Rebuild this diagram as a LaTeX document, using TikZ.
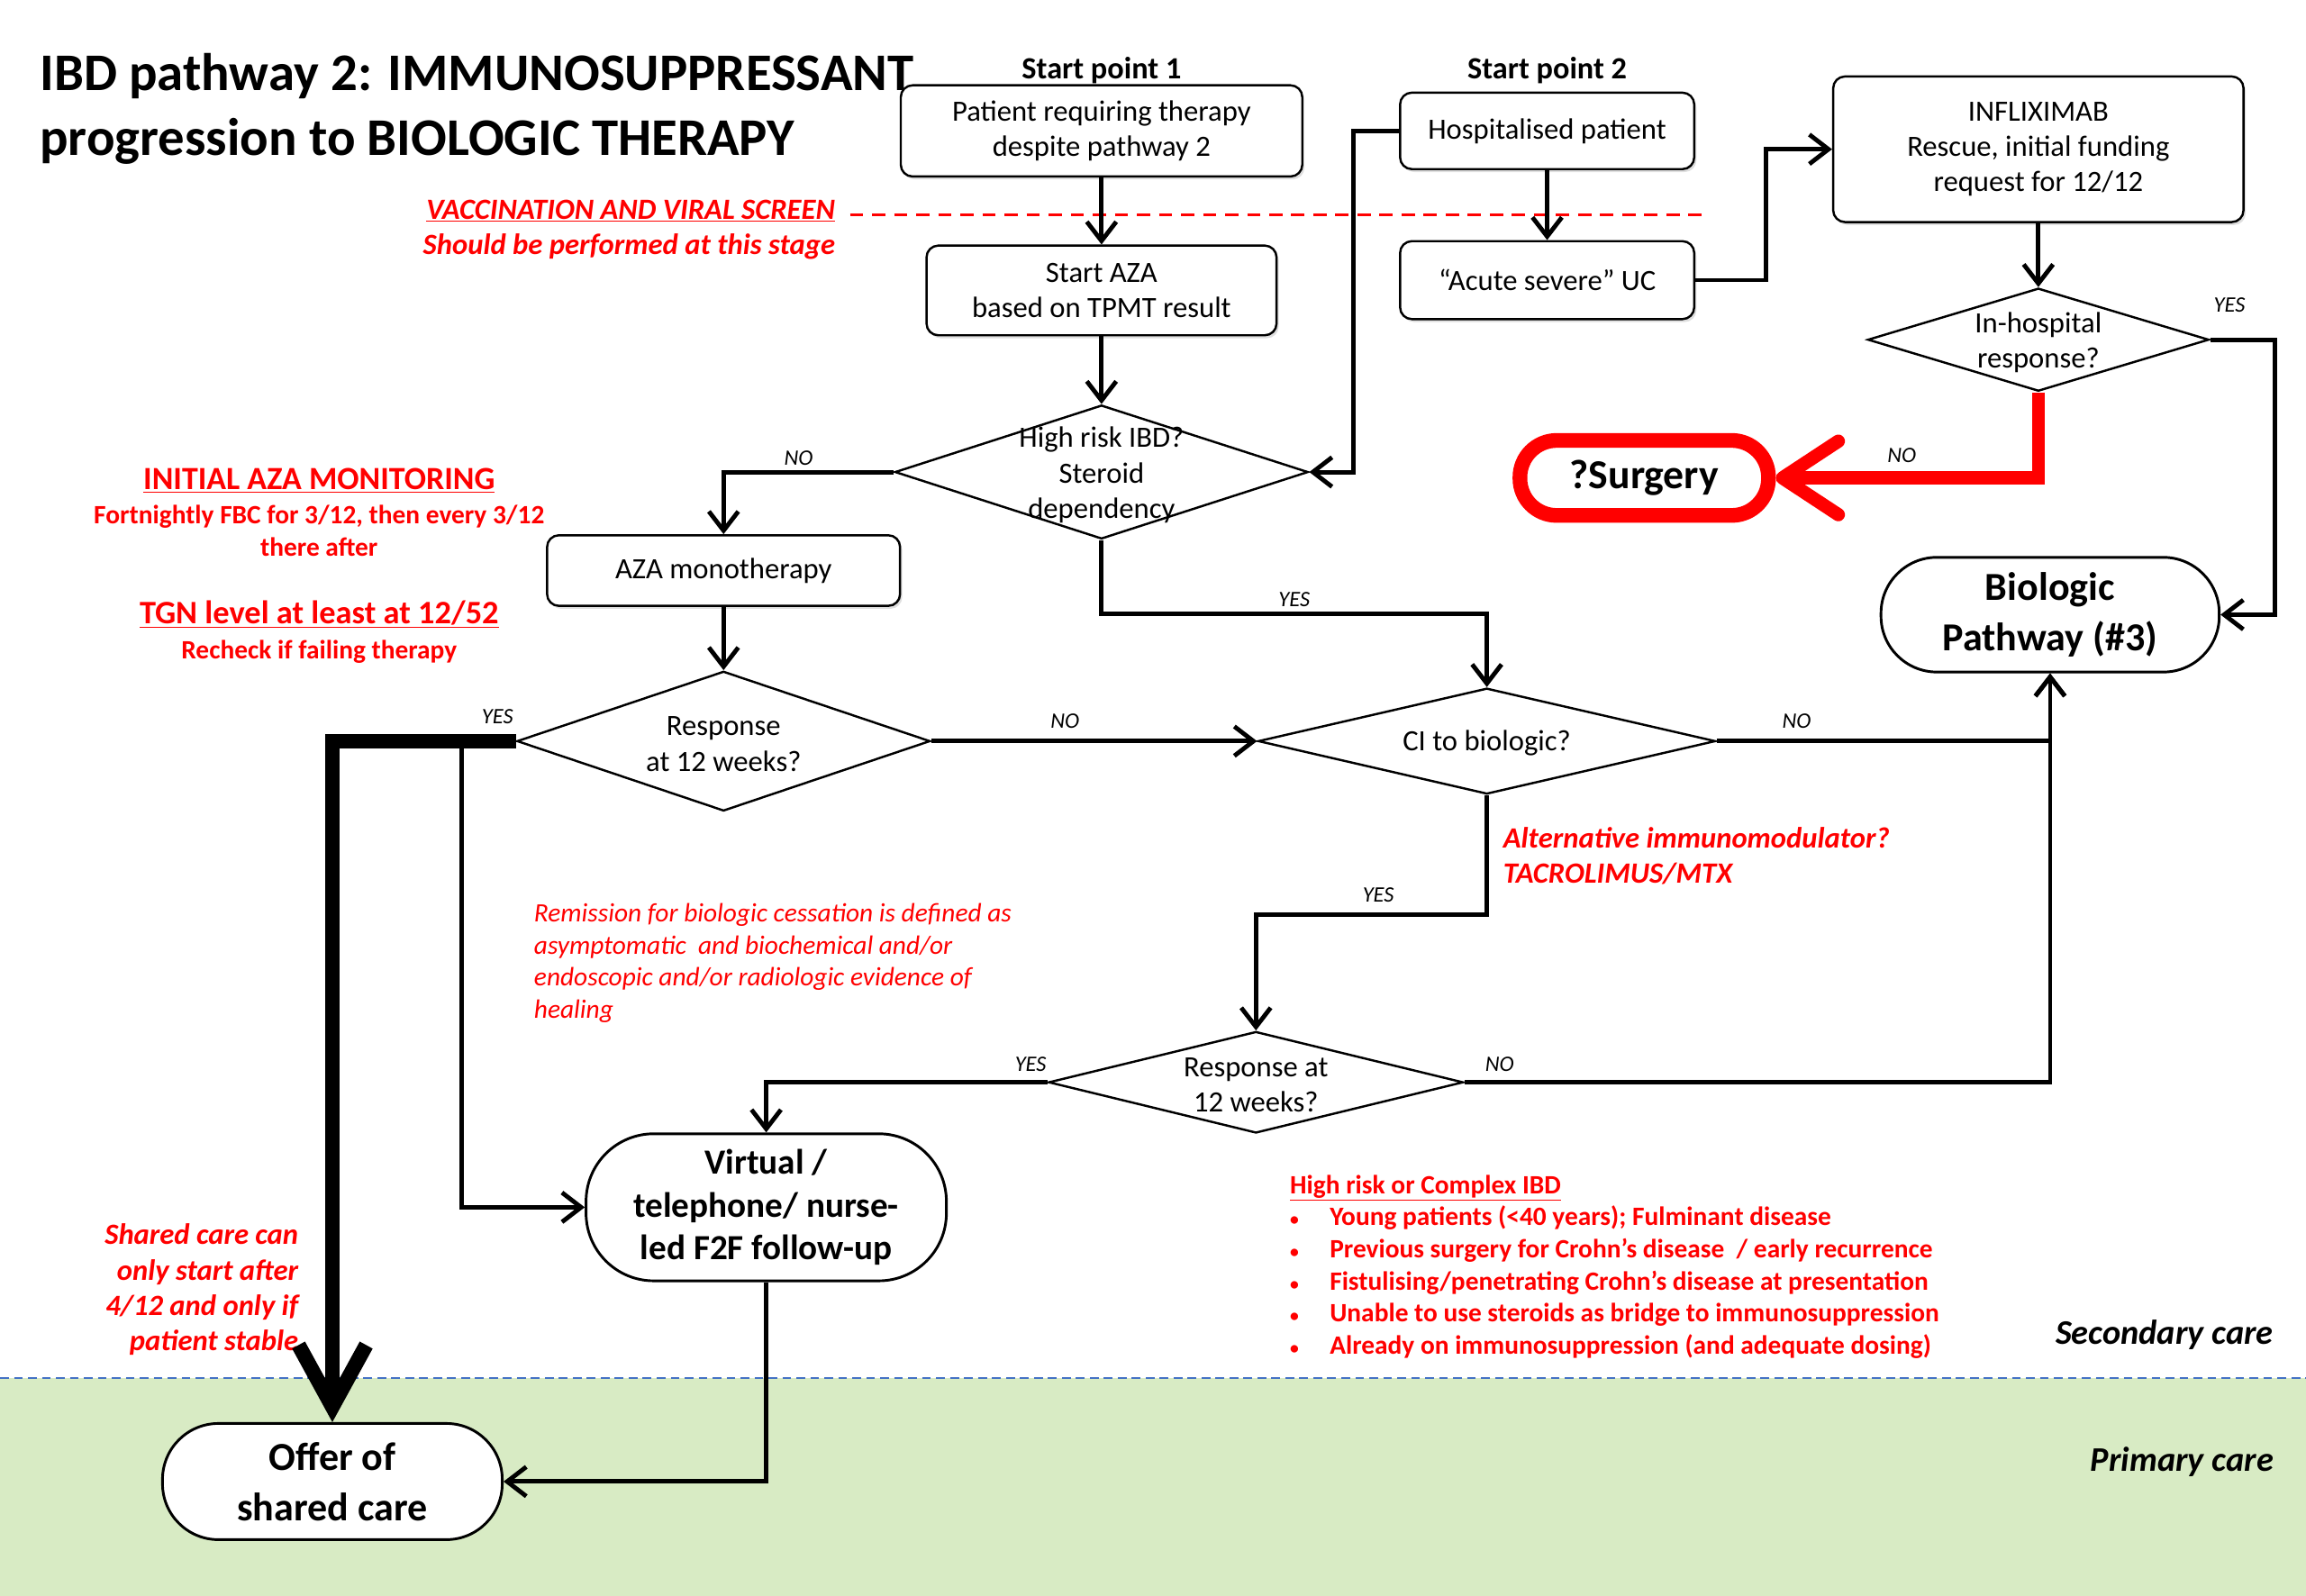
\documentclass[tikz,border=0pt]{standalone}
\usepackage{fontspec}
\setmainfont{Carlito}
\usepackage{tikz}
\usetikzlibrary{shapes.geometric,arrows.meta,positioning,calc,shadows}

\definecolor{notered}{RGB}{255,0,0}
\definecolor{primarygreen}{RGB}{216,235,196}
\definecolor{laneblue}{RGB}{68,114,196}

\newcommand{\fsize}[2]{\fontsize{#1}{#2}\selectfont}
\newcommand{\riskitem}{\makebox[27pt][l]{\fsize{12}{12}\textbullet}}

\begin{document}
\begin{tikzpicture}[
    x=1pt, y=-1pt,
    box/.style={rectangle, rounded corners=8pt, draw, line width=1.5pt, fill=white, align=center, font=\fsize{20}{24}, drop shadow={opacity=0.25, shadow xshift=1.5pt, shadow yshift=-2pt}},
    endbox/.style={rectangle, rounded corners=#1, draw, line width=1.8pt, fill=white, align=center, inner sep=0pt},
    decision/.style={diamond, draw, line width=1.5pt, fill=white, inner sep=0pt},
    dtext/.style={align=center, inner sep=0pt, font=\fsize{20}{24}},
    arrow/.style={-{Straight Barb[length=13pt,width=20pt]}, line width=3pt},
    yn/.style={font=\itshape\fsize{15}{15}, inner sep=3pt},
    note/.style={text=notered, inner sep=0pt}
]

% care zones
\useasboundingbox (0,0) rectangle (1568,1085.3);
\fill[primarygreen] (0,937) rectangle (1568,1085.3);
\draw[laneblue, line width=1.5pt, dash pattern=on 6pt off 3.5pt] (0,937) -- (1568,937);

% title
\node[anchor=west, align=left, inner sep=0pt, font=\bfseries\fsize{36}{44}] (title) at (27,74) {IBD pathway 2: IMMUNOSUPPRESSANT\\progression to BIOLOGIC THERAPY};

% start points
\node[box, minimum width=273, minimum height=62] (p1) at (749,89) {Patient requiring therapy\\despite pathway 2};
\node[box, minimum width=200, minimum height=52] (hosp) at (1052,89) {Hospitalised patient};
\node[box, minimum width=279, minimum height=99] (ifx) at (1386,101.5) {INFLIXIMAB\\Rescue, initial funding\\request for 12/12};
\node[font=\bfseries\fsize{21}{25}, inner sep=0pt, above=0pt of p1] (sp1) {Start point 1};
\node[font=\bfseries\fsize{21}{25}, inner sep=0pt, above=5pt of hosp] (sp2) {Start point 2};

\node[box, minimum width=238, minimum height=61] (aza) at (749,197.5) {Start AZA\\based on TPMT result};
\node[box, minimum width=200, minimum height=53] (uc) at (1052,190.5) {“Acute severe” UC};

% decisions and steps
\node[decision, minimum width=281, minimum height=91] (risk) at (749,321) {};
\node[dtext] (risk-t) at (749,323) {High risk IBD?\\Steroid\\dependency};
\node[box, minimum width=240, minimum height=48] (mono) at (492,388) {AZA monotherapy};
\node[decision, minimum width=281, minimum height=95] (resp) at (492,504) {};
\node[dtext] (resp-t) at (492,506) {Response\\at 12 weeks?};
\node[decision, minimum width=311, minimum height=72] (ci) at (1011,504) {};
\node[dtext] (ci-t) at (1011,505) {CI to biologic?};
\node[decision, minimum width=232, minimum height=70] (inhosp) at (1386,231) {};
\node[dtext] (inhosp-t) at (1386,233) {In-hospital\\response?};
\node[decision, minimum width=282, minimum height=69] (resp2) at (854,736) {};
\node[dtext] (resp2-t) at (854,738) {Response at\\12 weeks?};

% end points
\node[endbox=38pt, font=\bfseries\fsize{27}{34}, minimum width=230, minimum height=78] (bio) at (1394,418) {Biologic\\Pathway (\#3)};
\node[endbox=25pt, draw=notered, line width=10pt, font=\bfseries\fsize{28}{34}, minimum width=169, minimum height=51] (surg) at (1118,325) {?Surgery};
\node[endbox=46pt, font=\bfseries\fsize{24}{29}, minimum width=245, minimum height=100] (virt) at (521,821) {Virtual /\\telephone/ nurse-\\led F2F follow-up};
\node[endbox=38pt, font=\bfseries\fsize{27}{34}, minimum width=231, minimum height=79] (offer) at (226,1007.5) {Offer of\\shared care};

% red notes
\node[note, anchor=east, align=right, font=\bfseries\itshape\fsize{20}{24}] (vacc) at (568,156) {\underline{VACCINATION AND VIRAL SCREEN}\\Should be performed at this stage};
\draw[notered, line width=1.5pt, dash pattern=on 9pt off 6pt] (578,146) -- (1162,146);
\node[note, font=\bfseries\fsize{22}{26}] (mon) at (217,327) {\underline{INITIAL AZA MONITORING}};
\node[note, align=center, font=\bfseries\fsize{18}{22}] (mon-b) at (217,361) {Fortnightly FBC for 3/12, then every 3/12\\there after};
\node[note, font=\bfseries\fsize{22.3}{26}] (tgn) at (217,418) {\underline{TGN level at least at 12/52}};
\node[note, font=\bfseries\fsize{18}{22}] (tgn-b) at (217,443) {Recheck if failing therapy};
\node[note, anchor=west, align=left, font=\itshape\fsize{18}{21.7}] (remis) at (363,655) {Remission for biologic cessation is defined as\\asymptomatic\ \ and biochemical and/or\\endoscopic and/or radiologic evidence of\\healing};
\node[note, anchor=west, align=left, font=\bfseries\itshape\fsize{20}{24}] (alt) at (1022,582) {Alternative immunomodulator?\\TACROLIMUS/MTX};
\node[note, anchor=east, align=right, font=\bfseries\itshape\fsize{20}{24}] (shared) at (203,877) {Shared care can\\only start after\\4/12 and only if\\patient stable};
\node[note, anchor=west, align=left, font=\bfseries\fsize{18}{21.8}] (risklist) at (877,861.5) {\underline{High risk or Complex IBD}\\
  \riskitem Young patients (<40 years); Fulminant disease\\
  \riskitem Previous surgery for Crohn’s disease\ \ / early recurrence\\
  \riskitem Fistulising/penetrating Crohn’s disease at presentation\\
  \riskitem Unable to use steroids as bridge to immunosuppression\\
  \riskitem Already on immunosuppression (and adequate dosing)};

% zone names
\node[anchor=east, inner sep=0pt, font=\bfseries\itshape\fsize{23.5}{28}] (sec) at (1546,908) {Secondary care};
\node[anchor=east, inner sep=0pt, font=\bfseries\itshape\fsize{23.5}{28}] (prim) at (1546,994) {Primary care};

% connectors
\draw[arrow] (p1) -- (aza);
\draw[arrow] (aza) -- (risk);
\draw[arrow] (hosp) -- (uc);
\draw[arrow] (uc.east) -- ++(48,0) |- (ifx.west);
\draw[arrow] (hosp.west) -- ++(-31,0) |- (risk.east);
\draw[arrow] (risk.west) -| node[yn, above, pos=0.28] {NO} (mono.north);
\draw[arrow] (risk.south) -- ++(0,50) -| node[yn, above, pos=0.25] {YES} (ci.north);
\draw[arrow] (mono) -- (resp);
\draw[arrow] (resp.east) -- node[yn, above=4pt, pos=0.41] {NO} (ci.west);
\draw[arrow] (ci.east) -| node[yn, above=4pt, pos=0.12] {NO} (bio.south);
\draw[arrow] (ifx) -- (inhosp);
\draw[arrow] (inhosp.east) -- node[yn, above=14pt, pos=0.3] {YES} ++(44,0) |- (bio.east);
\draw[arrow] (ci.south) -- ++(0,81) -| node[yn, above=4pt, pos=0.235] {YES} (resp2.north);
\draw[arrow] (resp2.east) -| node[yn, above=3pt, pos=0.03] {NO} (bio.south);
\draw[arrow] (resp2.west) -| node[yn, above=3pt, pos=0.03] {YES} (virt.north);
\draw[arrow] (resp.west) -- ++(-37,0) |- (virt.west);
\draw[arrow] (virt.south) |- (offer.east);
\draw[notered, line width=9pt, -{Straight Barb[length=38pt,width=50pt,round]}] (inhosp.south) |- node[yn, text=black, above=3pt, pos=0.76] {NO} (surg.east);
\draw[line width=10pt, -{Straight Barb[length=42pt,width=46pt]}] (resp.west) -| node[yn, above=4pt, pos=0.05] {YES} (offer.north);

\end{tikzpicture}
\end{document}
